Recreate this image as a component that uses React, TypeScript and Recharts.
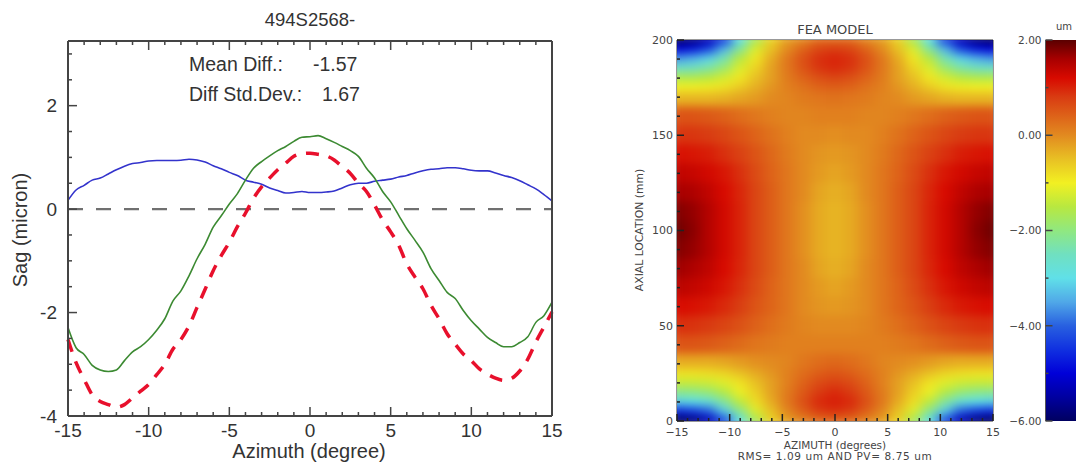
import React from 'react';
import {
  LineChart,
  Line,
  BarChart,
  Bar,
  ScatterChart,
  Scatter,
  XAxis,
  YAxis,
  ReferenceLine,
} from 'recharts';

// Sag profile (left panel)
const azimuthValues = [
  -15, -14.5, -14, -13.5, -13, -12.5, -12, -11.5, -11, -10.5, -10, -9.5, -9, -8.5, -8, -7.5, -7, -6.5, -6, -5.5, -5,
  -4.5, -4, -3.5, -3, -2.5, -2, -1.5, -1, -0.5, 0, 0.5, 1, 1.5, 2, 2.5, 3, 3.5, 4, 4.5, 5, 5.5, 6, 6.5, 7, 7.5, 8, 8.5,
  9, 9.5, 10, 10.5, 11, 11.5, 12, 12.5, 13, 13.5, 14, 14.5, 15,
];
const diffValues = [
  0.17, 0.37, 0.46, 0.56, 0.6, 0.68, 0.76, 0.83, 0.88, 0.9, 0.93, 0.94, 0.94, 0.94, 0.945, 0.965, 0.95, 0.91, 0.84,
  0.78, 0.71, 0.65, 0.56, 0.52, 0.48, 0.41, 0.36, 0.31, 0.32, 0.34, 0.32, 0.32, 0.33, 0.35, 0.41, 0.47, 0.5, 0.5, 0.54,
  0.56, 0.58, 0.62, 0.65, 0.7, 0.74, 0.77, 0.78, 0.8, 0.8, 0.78, 0.75, 0.74, 0.74, 0.7, 0.65, 0.61, 0.55, 0.47, 0.39,
  0.28, 0.16,
];
const measuredValues = [
  -2.29, -2.68, -2.81, -3.02, -3.11, -3.14, -3.11, -2.93, -2.76, -2.66, -2.52, -2.34, -2.12, -1.78, -1.58, -1.29, -0.96,
  -0.68, -0.35, -0.13, 0.1, 0.3, 0.56, 0.79, 0.92, 1.03, 1.13, 1.21, 1.31, 1.39, 1.4, 1.42, 1.36, 1.29, 1.21, 1.13,
  1.02, 0.79, 0.6, 0.34, 0.14, -0.12, -0.38, -0.6, -0.83, -1.15, -1.38, -1.61, -1.73, -1.96, -2.16, -2.32, -2.48,
  -2.58, -2.66, -2.66, -2.58, -2.47, -2.19, -2.06, -1.8,
];
const modelValues = [
  -2.52, -2.97, -3.29, -3.59, -3.72, -3.78, -3.83, -3.78, -3.65, -3.52, -3.39, -3.2, -3.0, -2.71, -2.52, -2.26, -1.9,
  -1.55, -1.19, -0.9, -0.64, -0.34, -0.08, 0.21, 0.43, 0.6, 0.76, 0.89, 1.02, 1.07, 1.08, 1.06, 1.03, 0.95, 0.82, 0.69,
  0.5, 0.34, 0.08, -0.21, -0.44, -0.7, -1.06, -1.31, -1.54, -1.86, -2.12, -2.41, -2.61, -2.8, -2.93, -3.09, -3.19,
  -3.27, -3.31, -3.27, -3.13, -2.9, -2.57, -2.28, -1.99,
];
const sagXTicks = [
  -15, -14, -13, -12, -11, -10, -9, -8, -7, -6, -5, -4, -3, -2, -1, 0, 1, 2, 3, 4, 5, 6, 7, 8, 9, 10, 11, 12, 13, 14, 15,
];
const sagYTicks = [-4, -3.5, -3, -2.5, -2, -1.5, -1, -0.5, 0, 0.5, 1, 1.5, 2, 2.5, 3];

// FEA model map (right panel), um, top row is axial 200
const heatAzimuth = [-15, -13.5, -12, -10.5, -9, -7.5, -6, -4.5, -3, -1.5, 0, 1.5, 3, 4.5, 6, 7.5, 9, 10.5, 12, 13.5, 15];
const heatAxial = [200, 195, 190, 185, 180, 175, 170, 160, 150, 140, 130, 120, 110, 100, 90, 80, 70, 60, 50, 40, 30, 25, 20, 15, 10, 5, 0];
const heatValues = [
  [-6.0, -5.8, -5.3, -4.4, -3.0, -1.7, -0.7, -0.2, 0, 0.3, 0.3, 0.3, 0, -0.2, -0.7, -1.7, -3.0, -4.4, -5.3, -5.8, -6.0],
  [-5.0, -4.8, -4.3, -3.4, -2.2, -1.2, -0.5, 0, 0.4, 0.7, 0.8, 0.7, 0.4, 0, -0.5, -1.2, -2.2, -3.4, -4.3, -4.8, -5.0],
  [-3.6, -3.4, -3.1, -2.4, -1.5, -0.9, -0.3, 0.2, 0.6, 0.9, 1.0, 0.9, 0.6, 0.2, -0.3, -0.9, -1.5, -2.4, -3.1, -3.4, -3.6],
  [-2.6, -2.5, -2.3, -1.85, -1.2, -0.7, -0.2, 0.2, 0.55, 0.85, 0.95, 0.85, 0.55, 0.2, -0.2, -0.7, -1.2, -1.85, -2.3, -2.5, -2.6],
  [-1.6, -1.6, -1.5, -1.25, -0.9, -0.5, -0.2, 0.15, 0.4, 0.6, 0.7, 0.6, 0.4, 0.15, -0.2, -0.5, -0.9, -1.25, -1.5, -1.6, -1.6],
  [-1.0, -1.0, -0.95, -0.85, -0.6, -0.35, -0.1, 0.1, 0.25, 0.4, 0.45, 0.4, 0.25, 0.1, -0.1, -0.35, -0.6, -0.85, -0.95, -1.0, -1.0],
  [-0.4, -0.4, -0.4, -0.35, -0.25, -0.15, 0, 0.05, 0.15, 0.2, 0.25, 0.2, 0.15, 0.05, 0, -0.15, -0.25, -0.35, -0.4, -0.4, -0.4],
  [0.55, 0.55, 0.5, 0.42, 0.3, 0.2, 0.1, 0.05, 0.05, 0.1, 0.1, 0.1, 0.05, 0.05, 0.1, 0.2, 0.3, 0.42, 0.5, 0.55, 0.55],
  [0.85, 0.85, 0.8, 0.7, 0.55, 0.4, 0.25, 0.1, 0, 0, -0.05, 0, 0, 0.1, 0.25, 0.4, 0.55, 0.7, 0.8, 0.85, 0.85],
  [1.15, 1.1, 1.05, 0.9, 0.75, 0.55, 0.35, 0.15, 0, -0.1, -0.15, -0.1, 0, 0.15, 0.35, 0.55, 0.75, 0.9, 1.05, 1.1, 1.15],
  [1.4, 1.35, 1.25, 1.1, 0.9, 0.65, 0.4, 0.2, 0, -0.15, -0.25, -0.15, 0, 0.2, 0.4, 0.65, 0.9, 1.1, 1.25, 1.35, 1.4],
  [1.6, 1.55, 1.4, 1.2, 0.98, 0.7, 0.45, 0.2, 0, -0.25, -0.35, -0.25, 0, 0.2, 0.45, 0.7, 0.98, 1.2, 1.4, 1.55, 1.6],
  [1.8, 1.7, 1.5, 1.25, 1.0, 0.7, 0.45, 0.2, -0.05, -0.3, -0.4, -0.3, -0.05, 0.2, 0.45, 0.7, 1.0, 1.25, 1.5, 1.7, 1.8],
  [1.9, 1.75, 1.5, 1.25, 1.0, 0.7, 0.45, 0.2, -0.05, -0.3, -0.4, -0.3, -0.05, 0.2, 0.45, 0.7, 1.0, 1.25, 1.5, 1.75, 1.9],
  [1.8, 1.7, 1.5, 1.25, 1.0, 0.7, 0.45, 0.2, -0.05, -0.3, -0.4, -0.3, -0.05, 0.2, 0.45, 0.7, 1.0, 1.25, 1.5, 1.7, 1.8],
  [1.65, 1.55, 1.42, 1.2, 0.98, 0.7, 0.45, 0.2, 0, -0.25, -0.35, -0.25, 0, 0.2, 0.45, 0.7, 0.98, 1.2, 1.42, 1.55, 1.65],
  [1.45, 1.38, 1.28, 1.1, 0.9, 0.65, 0.4, 0.2, 0, -0.15, -0.25, -0.15, 0, 0.2, 0.4, 0.65, 0.9, 1.1, 1.28, 1.38, 1.45],
  [1.2, 1.15, 1.08, 0.95, 0.78, 0.55, 0.38, 0.2, 0, -0.1, -0.15, -0.1, 0, 0.2, 0.38, 0.55, 0.78, 0.95, 1.08, 1.15, 1.2],
  [0.9, 0.88, 0.82, 0.72, 0.58, 0.42, 0.28, 0.15, 0.05, 0, 0, 0, 0.05, 0.15, 0.28, 0.42, 0.58, 0.72, 0.82, 0.88, 0.9],
  [0.55, 0.55, 0.5, 0.42, 0.32, 0.22, 0.15, 0.1, 0.1, 0.1, 0.1, 0.1, 0.1, 0.1, 0.15, 0.22, 0.32, 0.42, 0.5, 0.55, 0.55],
  [-0.3, -0.3, -0.3, -0.25, -0.15, -0.05, 0, 0.05, 0.2, 0.3, 0.35, 0.3, 0.2, 0.05, 0, -0.05, -0.15, -0.25, -0.3, -0.3, -0.3],
  [-0.85, -0.85, -0.8, -0.7, -0.5, -0.3, -0.1, 0.1, 0.3, 0.45, 0.55, 0.45, 0.3, 0.1, -0.1, -0.3, -0.5, -0.7, -0.8, -0.85, -0.85],
  [-1.35, -1.35, -1.3, -1.15, -0.85, -0.5, -0.2, 0.1, 0.4, 0.65, 0.75, 0.65, 0.4, 0.1, -0.2, -0.5, -0.85, -1.15, -1.3, -1.35, -1.35],
  [-2.1, -2.05, -1.9, -1.55, -1.05, -0.65, -0.2, 0.15, 0.5, 0.8, 0.95, 0.8, 0.5, 0.15, -0.2, -0.65, -1.05, -1.55, -1.9, -2.05, -2.1],
  [-3.1, -3.0, -2.8, -2.2, -1.45, -0.8, -0.3, 0.2, 0.6, 0.95, 1.05, 0.95, 0.6, 0.2, -0.3, -0.8, -1.45, -2.2, -2.8, -3.0, -3.1],
  [-4.6, -4.4, -4.0, -3.2, -2.1, -1.2, -0.5, 0.05, 0.45, 0.8, 0.9, 0.8, 0.45, 0.05, -0.5, -1.2, -2.1, -3.2, -4.0, -4.4, -4.6],
  [-6.0, -5.8, -5.3, -4.3, -3.0, -1.7, -0.7, -0.2, 0.05, 0.3, 0.35, 0.3, 0.05, -0.2, -0.7, -1.7, -3.0, -4.3, -5.3, -5.8, -6.0],
];
const heatXTicks = sagXTicks;
const heatYTicks = [0, 10, 20, 30, 40, 50, 60, 70, 80, 90, 100, 110, 120, 130, 140, 150, 160, 170, 180, 190, 200];
const barTicks = [-6, -5, -4, -3, -2, -1, 0, 1, 2];
const barData = [{ band: 'um', range: [-6, 2] }];

// colour table of the map, value -> colour
const colorLevels = [2, 1.6, 1.2, 0.8, 0, -0.5, -1, -1.5, -2, -2.5, -3, -3.5, -4, -4.5, -5, -5.5, -6];
const colorNames = [
  '#5a0000', '#a80000', '#d80a00', '#d93c12', '#e28a20', '#e8c024', '#f2f022', '#b8e840', '#90e880', '#70e0c0',
  '#60e0e8', '#50a8e8', '#2860e0', '#1030e0', '#0000d8', '#0000a0', '#000060',
];

const sagData = azimuthValues.map((azimuth, i) => ({
  azimuth,
  diff: diffValues[i],
  measured: measuredValues[i],
  model: modelValues[i],
}));

const heatData = heatAxial.flatMap((axial, r) =>
  heatAzimuth.map((azimuth, c) => ({ azimuth, axial, value: heatValues[r][c], row: r })),
);

const hexToRgb = (hex: string) => [1, 3, 5].map((i) => parseInt(hex.slice(i, i + 2), 16));

function colorFor(value: number) {
  const v = Math.max(-6, Math.min(2, value));
  let i = 0;
  while (i < colorLevels.length - 2 && v < colorLevels[i + 1]) i++;
  const t = (colorLevels[i] - v) / (colorLevels[i] - colorLevels[i + 1]);
  const a = hexToRgb(colorNames[i]);
  const b = hexToRgb(colorNames[i + 1]);
  return `rgb(${a.map((n, k) => Math.round(n + (b[k] - n) * t)).join(',')})`;
}

// inward-pointing ticks on all four sides, like the IDL originals
function InTick(props: any) {
  const { x, y, payload, side, isMajor, majorLen, minorLen, color, label, fontSize, fontFamily, offset, textColor } = props;
  const major = isMajor(payload.value);
  const len = major ? majorLen : minorLen;
  const dx = side === 'left' ? len : side === 'right' ? -len : 0;
  const dy = side === 'bottom' ? -len : side === 'top' ? len : 0;
  return (
    <g>
      <line x1={x} y1={y} x2={x + dx} y2={y + dy} stroke={color} strokeWidth={1.5} />
      {label && major && side === 'bottom' && (
        <text x={x} y={y + offset} textAnchor="middle" fontSize={fontSize} fontFamily={fontFamily} fill={textColor}>
          {label(payload.value)}
        </text>
      )}
      {label && major && side === 'left' && (
        <text x={x - offset} y={y + fontSize * 0.36} textAnchor="end" fontSize={fontSize} fontFamily={fontFamily} fill={textColor}>
          {label(payload.value)}
        </text>
      )}
    </g>
  );
}

const SANS = '"Liberation Sans", Arial, sans-serif';
const IDL = '"DejaVu Sans", sans-serif';
const minusSign = (v: number, digits = 0) => (v < 0 ? '\u2212' : '') + Math.abs(v).toFixed(digits);

const HEAT_LEFT = 677;
const HEAT_RIGHT = 993;
const HEAT_TOP = 40;
const HEAT_BOTTOM = 421;

function HeatCell(props: any) {
  const { cx, cy, payload } = props;
  const unitX = (HEAT_RIGHT - HEAT_LEFT) / 30;
  const unitY = (HEAT_BOTTOM - HEAT_TOP) / 200;
  const r = payload.row;
  const up = r > 0 ? heatAxial[r - 1] - heatAxial[r] : heatAxial[r] - heatAxial[r + 1];
  const down = r < heatAxial.length - 1 ? heatAxial[r] - heatAxial[r + 1] : up;
  const top = cy - (up / 2) * unitY;
  const bottom = cy + (down / 2) * unitY;
  const w = 1.5 * unitX;
  return <rect x={cx - w / 2 - 0.5} y={top - 0.5} width={w + 1} height={bottom - top + 1} fill={colorFor(payload.value)} />;
}

function SagChart() {
  const xMajor = (v: number) => v % 5 === 0;
  const yMajor = (v: number) => v % 2 === 0;
  const tickBase = { majorLen: 9, minorLen: 4, color: '#444', fontSize: 19, fontFamily: SANS, textColor: '#333' };
  const axisLine = { stroke: '#444', strokeWidth: 2 };
  return (
    <div style={{ position: 'absolute', left: 0, top: 0 }}>
      <LineChart width={600} height={463} data={sagData} margin={{ top: 40, right: 47, bottom: 46, left: 67 }}>
        <XAxis dataKey="azimuth" type="number" domain={[-15, 15]} ticks={sagXTicks} interval={0} height={1} tickSize={0} tickMargin={0} axisLine={axisLine} tickLine={false}
          tick={<InTick {...tickBase} side="bottom" isMajor={xMajor} label={(v: number) => String(v)} offset={21} />} />
        <XAxis xAxisId="top" orientation="top" dataKey="azimuth" type="number" domain={[-15, 15]} ticks={sagXTicks} interval={0} height={1} tickSize={0} tickMargin={0} axisLine={axisLine} tickLine={false}
          tick={<InTick {...tickBase} side="top" isMajor={xMajor} />} />
        <YAxis type="number" domain={[-4, 3.25]} ticks={sagYTicks} interval={0} width={1} tickSize={0} tickMargin={0} axisLine={axisLine} tickLine={false}
          tick={<InTick {...tickBase} side="left" isMajor={yMajor} label={(v: number) => String(v)} offset={11} />} />
        <YAxis yAxisId="right" orientation="right" type="number" domain={[-4, 3.25]} ticks={sagYTicks} interval={0} width={1} tickSize={0} tickMargin={0} axisLine={axisLine} tickLine={false}
          tick={<InTick {...tickBase} side="right" isMajor={yMajor} />} />
        <ReferenceLine y={0} stroke="#707070" strokeWidth={2.2} strokeDasharray="15 13" />
        <Line type="monotone" dataKey="diff" stroke="#3333cc" strokeWidth={1.6} dot={false} isAnimationActive={false} />
        <Line type="monotone" dataKey="measured" stroke="#3c8a32" strokeWidth={1.6} dot={false} isAnimationActive={false} />
        <Line type="monotone" dataKey="model" stroke="#e8102c" strokeWidth={3.5} strokeDasharray="13 10" dot={false} isAnimationActive={false} />
        <text x={310} y={26} textAnchor="middle" fontSize={18.5} fontFamily={SANS} fill="#333">494S2568-</text>
        <text x={189} y={71} fontSize={19.5} fontFamily={SANS} fill="#333">Mean Diff.:</text>
        <text x={313} y={71} fontSize={19.5} fontFamily={SANS} fill="#333">-1.57</text>
        <text x={189} y={101} fontSize={19.5} fontFamily={SANS} fill="#333">Diff Std.Dev.:</text>
        <text x={322} y={101} fontSize={19.5} fontFamily={SANS} fill="#333">1.67</text>
        <text x={309} y={458} textAnchor="middle" fontSize={20} fontFamily={SANS} fill="#333">Azimuth (degree)</text>
        <text x={27} y={230} textAnchor="middle" fontSize={20} fontFamily={SANS} fill="#333" transform="rotate(-90 27 230)">Sag (micron)</text>
      </LineChart>
    </div>
  );
}

function HeatChart() {
  const xMajor = (v: number) => v % 5 === 0;
  const yMajor = (v: number) => v % 50 === 0;
  const tickBase = { majorLen: 7, minorLen: 3, color: '#222', fontSize: 11, fontFamily: IDL, textColor: '#444' };
  const axisLine = { stroke: '#333', strokeWidth: 1 };
  const chartLeft = 600;
  const chartWidth = 430;
  return (
    <div style={{ position: 'absolute', left: chartLeft, top: 0 }}>
      <style>{`.heat-cells { filter: url(#heatBlur); clip-path: url(#heatClip); }`}</style>
      <ScatterChart width={chartWidth} height={463} margin={{ top: HEAT_TOP - 1, right: chartLeft + chartWidth - HEAT_RIGHT - 1, bottom: 463 - HEAT_BOTTOM - 1, left: HEAT_LEFT - chartLeft - 1 }}>
        <defs>
          <filter id="heatBlur" filterUnits="userSpaceOnUse" x={0} y={0} width={chartWidth} height={463} colorInterpolationFilters="sRGB">
            <feGaussianBlur stdDeviation="6 5" />
          </filter>
          <clipPath id="heatClip">
            <rect x={HEAT_LEFT - chartLeft} y={HEAT_TOP} width={HEAT_RIGHT - HEAT_LEFT} height={HEAT_BOTTOM - HEAT_TOP} />
          </clipPath>
        </defs>
        <Scatter className="heat-cells" data={heatData} shape={<HeatCell />} isAnimationActive={false} />
        <XAxis dataKey="azimuth" type="number" domain={[-15, 15]} ticks={heatXTicks} interval={0} height={1} tickSize={0} tickMargin={0} axisLine={axisLine} tickLine={false}
          tick={<InTick {...tickBase} side="bottom" isMajor={xMajor} label={(v: number) => minusSign(v)} offset={15} />} />
        <XAxis xAxisId="top" orientation="top" dataKey="azimuth" type="number" domain={[-15, 15]} ticks={heatXTicks} interval={0} height={1} tickSize={0} tickMargin={0} axisLine={axisLine} tickLine={false}
          tick={<InTick {...tickBase} side="top" isMajor={xMajor} />} />
        <YAxis dataKey="axial" type="number" domain={[0, 200]} ticks={heatYTicks} interval={0} width={1} tickSize={0} tickMargin={0} axisLine={axisLine} tickLine={false}
          tick={<InTick {...tickBase} side="left" isMajor={yMajor} label={(v: number) => String(v)} offset={4} />} />
        <YAxis yAxisId="right" orientation="right" dataKey="axial" type="number" domain={[0, 200]} ticks={heatYTicks} interval={0} width={1} tickSize={0} tickMargin={0} axisLine={axisLine} tickLine={false}
          tick={<InTick {...tickBase} side="right" isMajor={yMajor} />} />
        <text x={235} y={34} textAnchor="middle" fontSize={13} fontFamily={IDL} fill="#444">FEA MODEL</text>
        <text x={235} y={449} textAnchor="middle" fontSize={10.5} fontFamily={IDL} fill="#444">AZIMUTH (degrees)</text>
        <text x={235} y={460} textAnchor="middle" fontSize={10.5} letterSpacing={0.6} fontFamily={IDL} fill="#444">RMS= 1.09 um AND PV= 8.75 um</text>
        <text x={43} y={230} textAnchor="middle" fontSize={10.8} fontFamily={IDL} fill="#444" transform="rotate(-90 43 230)">AXIAL LOCATION (mm)</text>
      </ScatterChart>
    </div>
  );
}

function ColorBar() {
  const major = (v: number) => v % 2 === 0;
  const tickBase = { majorLen: 7, minorLen: 3, color: '#444', fontSize: 10.5, fontFamily: IDL, textColor: '#444' };
  const axisLine = { stroke: '#555', strokeWidth: 1 };
  return (
    <div style={{ position: 'absolute', left: 1000, top: 0 }}>
      <BarChart width={90} height={463} data={barData} barCategoryGap={0} margin={{ top: HEAT_TOP, right: 10, bottom: 463 - HEAT_BOTTOM, left: 44.5 }}>
        <defs>
          <linearGradient id="barGradient" x1="0" y1="0" x2="0" y2="1">
            {colorLevels.map((level, i) => (
              <stop key={level} offset={`${((2 - level) / 8) * 100}%`} stopColor={colorNames[i]} />
            ))}
          </linearGradient>
        </defs>
        <XAxis dataKey="band" hide />
        <Bar dataKey="range" fill="url(#barGradient)" isAnimationActive={false} />
        <YAxis type="number" domain={[-6, 2]} ticks={barTicks} interval={0} width={1} tickSize={0} tickMargin={0} axisLine={axisLine} tickLine={false}
          tick={<InTick {...tickBase} side="left" isMajor={major} label={(v: number) => minusSign(v, 2)} offset={4} />} />
        <YAxis yAxisId="right" orientation="right" type="number" domain={[-6, 2]} ticks={barTicks} interval={0} width={1} tickSize={0} tickMargin={0} axisLine={axisLine} tickLine={false}
          tick={<InTick {...tickBase} side="right" isMajor={major} />} />
        <text x={64} y={30} textAnchor="middle" fontSize={10} fontFamily={IDL} fill="#444">um</text>
      </BarChart>
    </div>
  );
}

export default function App() {
  return (
    <div style={{ position: 'absolute', left: 0, top: 0, width: 1076, height: 463, overflow: 'hidden', background: '#fff' }}>
      <SagChart />
      <HeatChart />
      <ColorBar />
    </div>
  );
}
